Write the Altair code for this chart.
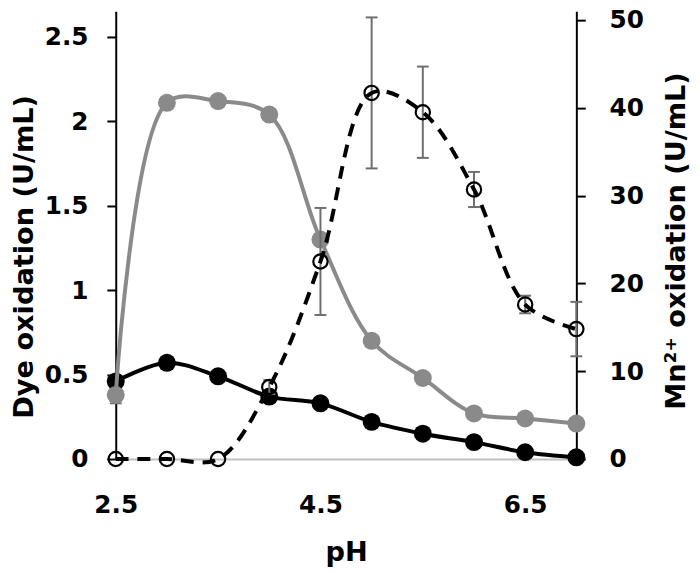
import altair as alt
import pandas as pd

ph = [2.5, 3.0, 3.5, 4.0, 4.5, 5.0, 5.5, 6.0, 6.5, 7.0]
dye_grey = [0.38, 2.11, 2.12, 2.04, 1.30, 0.70, 0.48, 0.27, 0.24, 0.21]
dye_grey_err = [0.05, 0, 0, 0, 0, 0, 0, 0, 0, 0]
dye_black = [0.46, 0.57, 0.49, 0.37, 0.33, 0.22, 0.15, 0.10, 0.04, 0.01]
mn = [0.0, 0.0, 0.0, 8.2, 22.5, 41.7, 39.5, 30.7, 17.6, 14.8]
mn_err = [0, 0, 0, 0.8, 6.1, 8.6, 5.2, 2.0, 1.0, 3.1]

left_ticks = [0, 0.5, 1, 1.5, 2, 2.5]
right_ticks = [0, 10, 20, 30, 40, 50]
x_ticks = [2.5, 4.5, 6.5]

df = pd.DataFrame({
    "pH": ph,
    "grey": dye_grey,
    "grey_lo": [v - e for v, e in zip(dye_grey, dye_grey_err)],
    "grey_hi": [v + e for v, e in zip(dye_grey, dye_grey_err)],
    "grey_err": dye_grey_err,
    "black": dye_black,
    "mn": mn,
    "mn_lo": [v - e for v, e in zip(mn, mn_err)],
    "mn_hi": [v + e for v, e in zip(mn, mn_err)],
    "mn_err": mn_err,
})

FONT = "DejaVu Sans"
LBL = 25
TTL = 27.5
GREY = "#8a8a8a"
ERR = "#6e6e6e"

xscale = alt.Scale(domain=[2.5, 7.0], nice=False, zero=False)
x_axis = alt.Axis(
    values=x_ticks, labelExpr="'' + datum.value", ticks=False,
    domainColor="#c0c0c0", domainWidth=2, grid=False,
    labelFont=FONT, labelFontSize=LBL, labelFontWeight="bold", labelColor="black",
    labelPadding=34, labelFlush=False,
    title="pH", titleFont=FONT, titleFontSize=TTL, titleFontWeight="bold", titleColor="black",
    titleY=103, titleBaseline="alphabetic",
)
X = alt.X("pH:Q", scale=xscale, axis=x_axis)

lscale = alt.Scale(domain=[0, 2.652], nice=False)
rscale = alt.Scale(domain=[0, 51.0], nice=False)

left_axis = alt.Axis(
    values=left_ticks, labelExpr="'' + datum.value", grid=False, orient="left",
    domainColor="black", domainWidth=2, tickColor="black", tickWidth=2, tickSize=9,
    labelFont=FONT, labelFontSize=LBL, labelFontWeight="bold", labelColor="black",
    labelPadding=19,
    title="Dye oxidation (U/mL)", titleFont=FONT, titleFontSize=TTL, titleFontWeight="bold",
    titleColor="black", titleAngle=270, titleX=-84, titleY=248, titleAlign="center",
    titleBaseline="alphabetic",
)
right_axis = alt.Axis(
    values=right_ticks, orient="right", grid=False,
    domainColor="black", domainWidth=2, tickColor="black", tickWidth=2, tickSize=9,
    labelFont=FONT, labelFontSize=LBL, labelFontWeight="bold", labelColor="black",
    labelPadding=24,
    title="Mn²⁺ oxidation (U/mL)", titleFont=FONT, titleFontSize=TTL, titleFontWeight="bold",
    titleColor="black", titleAngle=270, titleX=109, titleY=232, titleAlign="center",
    titleBaseline="alphabetic",
)


def L(field):
    return alt.Y(field, type="quantitative", scale=lscale, axis=left_axis)


def R(field):
    return alt.Y(field, type="quantitative", scale=rscale, axis=right_axis)


base = alt.Chart(df)

black_line = base.mark_line(color="black", strokeWidth=4, interpolate="catmull-rom").encode(
    x=X, y=L("black"))
black_pts = base.mark_point(filled=True, color="black", size=330, opacity=1).encode(
    x=X, y=L("black"))
grey_line = base.mark_line(color=GREY, strokeWidth=4, interpolate="catmull-rom").encode(
    x=X, y=L("grey"))
gerr = base.transform_filter("datum.grey_err > 0")
grey_err_rule = gerr.mark_rule(color=ERR, strokeWidth=2).encode(
    x=X, y=L("grey_lo"), y2="grey_hi:Q")
grey_err_cap = gerr.mark_tick(color=ERR, orient="horizontal", size=12, thickness=2, opacity=1).encode(
    x=X, y=L("grey_lo"))
grey_pts = base.mark_point(filled=True, color=GREY, size=330, opacity=1).encode(
    x=X, y=L("grey"))

left = alt.layer(black_line, black_pts, grey_line, grey_err_rule, grey_err_cap, grey_pts)

errb = base.transform_filter("datum.mn_err > 0")
mn_rule = errb.mark_rule(color=ERR, strokeWidth=2).encode(
    x=X, y=R("mn_lo"), y2="mn_hi:Q")
mn_cap_lo = errb.mark_tick(color=ERR, orient="horizontal", size=12, thickness=2, opacity=1).encode(
    x=X, y=R("mn_lo"))
mn_cap_hi = errb.mark_tick(color=ERR, orient="horizontal", size=12, thickness=2, opacity=1).encode(
    x=X, y=R("mn_hi"))
mn_line = base.mark_line(color="black", strokeWidth=4, strokeDash=[13, 9],
                         interpolate="catmull-rom").encode(
    x=X, y=R("mn"))
mn_pts = base.mark_point(filled=False, color="black", size=210, strokeWidth=2.2, opacity=1).encode(
    x=X, y=R("mn"))

right = alt.layer(mn_rule, mn_cap_lo, mn_cap_hi, mn_line, mn_pts)

chart = alt.layer(left, right).resolve_scale(y="independent").properties(
    width=466, height=453,
    autosize=alt.AutoSizeParams(type="none"),
    padding={"left": 109, "top": 0, "right": 117, "bottom": 112},
    background="white",
).configure_view(stroke=None)

chart.save("out.html", embed_options={"renderer": "svg", "actions": False})
